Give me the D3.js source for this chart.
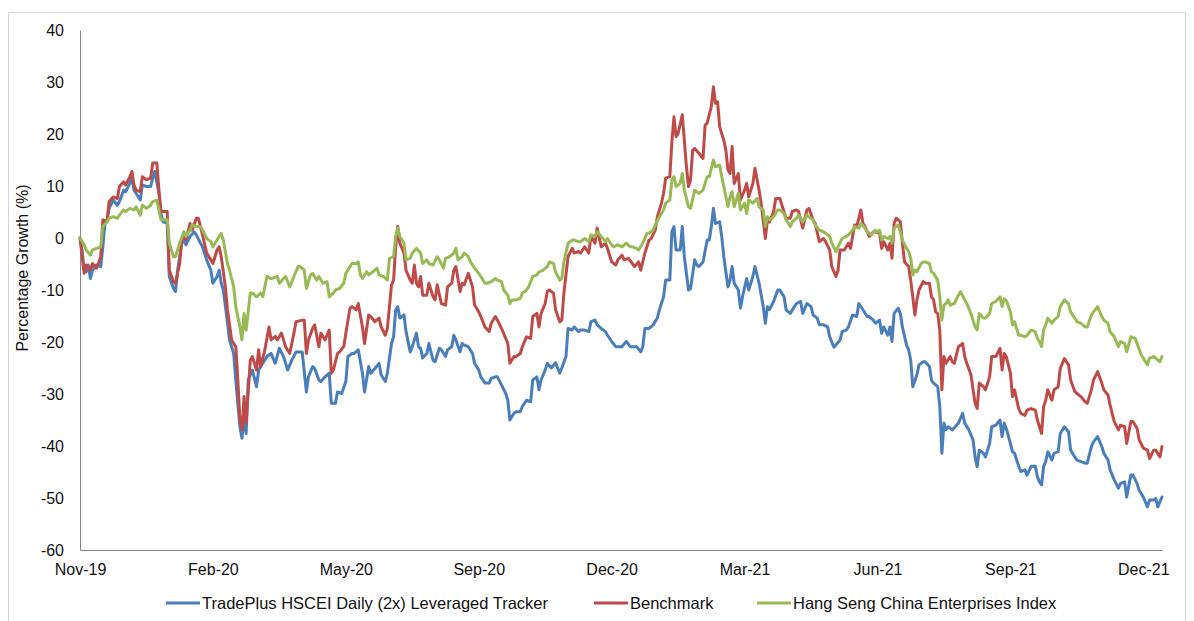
<!DOCTYPE html>
<html>
<head>
<meta charset="utf-8">
<script src="https://cdn.jsdelivr.net/npm/d3@7/dist/d3.min.js"></script>
<style>
  html, body { margin: 0; padding: 0; background: #fff; }
  svg { display: block; }
  text { font-family: "Liberation Sans", Arial, sans-serif; }
</style>
</head>
<body>
<svg id="chart" width="1194" height="621"></svg>
<script>
// ---------- DATA (trading-day index, % growth) ----------
const seriesNames = ["TradePlus HSCEI Daily (2x) Leveraged Tracker", "Benchmark", "Hang Seng China Enterprises Index"];
const tickDays = [0, 64, 128, 192, 256, 320, 384, 448, 512];
const tickLabels = ["Nov-19", "Feb-20", "May-20", "Sep-20", "Dec-20", "Mar-21", "Jun-21", "Sep-21", "Dec-21"];
const yTicks = [40, 30, 20, 10, 0, -10, -20, -30, -40, -50, -60];
const lastDay = 521;

const trackerData = [[0,0],[1,-2.3],[2,-6.2],[3,-6.5],[4,-5.2],[5,-7.8],[6,-6.2],[8,-5.2],[10,-5.5],[11,-1.7],[12,2.8],[13,3.5],[14,5.7],[16,7.3],[18,6.3],[19,7.0],[21,9.2],[22,8.9],[24,10.5],[25,11.8],[26,9.2],[27,8.6],[29,7.3],[30,10.2],[32,9.9],[34,9.9],[35,11.5],[36,12.8],[38,8.6],[39,4.7],[40,3.1],[42,2.8],[43,-7.4],[45,-9.7],[46,-10.3],[47,-6.2],[49,-1.0],
[50,-0.4],[51,-1.3],[53,0.3],[55,1.2],[56,0.6],[58,-1.0],[59,-1.7],[61,-4.2],[63,-6.2],[64,-8.7],[66,-7.4],[67,-6.2],[68,-8.7],[69,-10.0],[71,-16.1],[72,-19.6],[74,-22.2],[75,-27.3],[77,-36.3],[78,-38.5],[79,-34.4],[80,-37.6],[81,-27.3],[83,-25.4],[85,-28.6],[86,-25.4],[88,-24.1],[90,-22.8],[92,-22.2],[94,-24.1],[96,-21.2],[98,-22.8],[100,-25.4],[102,-23.5],[104,-21.9],[107,-21.9],
[109,-29.6],[110,-26.7],[112,-24.7],[113,-25.1],[115,-27.3],[116,-27.6],[118,-26.7],[120,-26.0],[121,-31.8],[123,-31.8],[124,-29.6],[126,-29.9],[128,-27.6],[129,-22.8],[131,-22.2],[132,-22.2],[134,-21.5],[136,-26.0],[137,-29.6],[139,-24.7],[140,-26.0],[142,-25.1],[144,-24.1],[145,-26.3],[147,-27.6],[148,-26.0],[150,-20.3],[151,-19.0],[152,-13.8],[153,-13.2],[154,-15.4],[156,-14.8],[157,-18.0],[159,-21.9],[160,-20.9],[162,-18.3],[163,-20.9],[164,-21.2],
[165,-23.1],[167,-22.2],[168,-20.3],[170,-23.5],[171,-23.8],[173,-21.2],[174,-21.5],[176,-22.8],[177,-21.5],[179,-20.9],[180,-18.7],[181,-19.6],[183,-21.9],[184,-20.3],[185,-20.6],[187,-20.9],[189,-22.2],[190,-24.1],[192,-25.4],[193,-26.7],[195,-27.9],[197,-27.9],[198,-27.0],[200,-26.7],[201,-26.7],[203,-28.3],[205,-29.9],[206,-31.2],[207,-35.0],[209,-33.7],[210,-33.4],[212,-33.4],[213,-32.4],[215,-31.2],[217,-31.5],[218,-27.3],[220,-26.7],[221,-29.2],[222,-27.3],[224,-25.4],[225,-24.1],
[227,-25.0],[229,-24.0],[231,-26.0],[232,-25.0],[234,-22.8],
[235,-17.4],[237,-17.7],[238,-17.1],[240,-18.0],[241,-17.7],[243,-17.7],[245,-18.0],[246,-16.1],[248,-15.8],[249,-16.7],[251,-17.4],[253,-18.0],[254,-18.7],[256,-19.9],[258,-20.9],[259,-20.9],[261,-20.9],[263,-19.9],[265,-20.9],[266,-20.9],[268,-20.9],[270,-21.9],[271,-20.9],[272,-17.4],[274,-17.4],[276,-16.7],[278,-15.4],[279,-13.8],[281,-11.3],[282,-8.1],[284,-8.1],
[285,1.2],[286,2.2],[287,-2.3],[289,-2.3],[290,2.2],[291,-3.6],[293,-10.0],[294,-9.7],[296,-4.2],[297,-5.2],[298,-5.5],[300,-4.6],[302,-0.4],[303,-0.4],[304,2.2],[305,5.7],[306,2.8],[308,3.1],[309,0.3],[310,-3.6],[312,-9.4],[313,-8.1],[314,-5.5],[315,-8.7],[317,-10.0],[318,-13.5],[319,-11.3],[321,-7.8],[322,-10.0],[324,-7.4],[325,-5.5],[327,-8.7],
[329,-13.2],[330,-16.4],[331,-13.2],[332,-13.8],[334,-12.2],[336,-10.0],[337,-10.0],[339,-11.3],[340,-13.8],[342,-14.5],[344,-13.2],[345,-12.6],[347,-12.2],[348,-14.5],[350,-12.6],[352,-13.2],[353,-14.8],[355,-15.4],[356,-16.7],[358,-16.7],[360,-17.1],[361,-19.0],[363,-21.0],[366,-19.6],[367,-18.0],[369,-17.7],[370,-17.1],[372,-14.8],[374,-15.1],[375,-12.6],[377,-13.8],[379,-15.1],[380,-15.1],[382,-15.8],[383,-16.4],
[385,-15.8],[386,-18.3],[387,-17.1],[389,-18.7],[390,-17.1],[391,-19.9],[392,-14.5],[394,-13.5],[395,-14.5],[396,-17.1],[398,-20.6],[399,-21.5],[400,-23.5],[401,-28.6],[403,-26.3],[404,-24.4],[406,-23.8],[407,-23.8],[409,-24.7],[410,-27.3],[411,-27.9],[413,-28.6],[414,-32.4],[415,-41.4],[416,-35.6],[417,-36.9],[418,-36.3],[420,-36.9],[421,-36.5],[423,-35.6],[425,-33.7],[426,-35.6],[428,-36.9],[430,-38.8],[431,-42.1],[432,-44.0],[433,-40.8],[435,-41.4],[436,-42.1],[438,-39.5],[439,-36.3],[441,-36.0],
[443,-35.0],[444,-38.2],[445,-35.6],[446,-36.6],[448,-39.5],[449,-41.1],[450,-41.4],[452,-43.9],[453,-44.9],[455,-44.6],[456,-45.6],[458,-43.9],[460,-43.9],[461,-45.9],[462,-46.9],[463,-47.5],[464,-43.9],[465,-43.0],[466,-41.1],[468,-42.7],[469,-41.4],[471,-41.1],[472,-37.6],[474,-36.3],[476,-37.3],[477,-40.8],[479,-42.1],[480,-42.7],[482,-43.0],[484,-43.3],[485,-43.3],[487,-40.1],[488,-39.2],[490,-38.2],[492,-40.1],[493,-41.4],[495,-42.7],[496,-44.6],[498,-46.5],[500,-48.1],[501,-47.2],[503,-46.9],[504,-49.8],[506,-45.6],[507,-45.6],[509,-47.2],[510,-48.5],[512,-49.8],[514,-51.7],[515,-50.4],[517,-50.4],[518,-50.1],[519,-51.7],[521,-49.8]];

const benchmarkData = [[0,0],[2,-6.8],[3,-5.2],[5,-6.2],[6,-4.9],[8,-5.8],[10,-3.6],[11,3.5],[13,3.1],[14,7.0],[16,7.9],[18,7.6],[19,9.9],[21,10.8],[22,10.2],[24,11.8],[25,12.8],[26,10.2],[27,9.2],[29,8.9],[30,11.8],[32,11.2],[34,11.5],[35,14.4],[37,14.4],[38,9.2],[39,5.1],[42,5.1],[43,-6.2],[45,-8.4],[46,-8.7],[48,-4.9],[49,-0.4],
[50,0.3],[51,-0.4],[53,2.8],[54,1.5],[56,3.8],[57,3.8],[58,2.2],[59,0.6],[61,-2.9],[63,-4.2],[64,-4.9],[66,-2.3],[67,-1.7],[68,-3.6],[70,-9.4],[71,-13.8],[73,-19.6],[75,-20.9],[76,-27.3],[77,-35.0],[78,-36.9],[79,-30.5],[80,-35.6],[82,-23.5],[83,-22.8],[85,-25.4],[86,-21.5],[87,-24.7],[89,-21.5],[91,-17.1],[92,-19.6],[94,-18.9],[95,-19.6],[97,-18.3],[99,-20.9],[101,-22.2],[103,-18.3],[104,-16.1],[107,-15.8],[108,-15.8],
[109,-22.2],[110,-19.6],[112,-17.4],[113,-16.7],[115,-20.9],[116,-18.3],[118,-19.6],[120,-17.7],[121,-26.0],[122,-25.4],[124,-22.2],[125,-21.9],[127,-20.9],[128,-18.3],[130,-13.5],[131,-13.2],[133,-13.8],[134,-12.6],[136,-17.1],[137,-20.3],[139,-14.8],[140,-15.1],[142,-16.1],[144,-15.4],[145,-17.1],[147,-18.7],[148,-17.4],[150,-9.0],[151,-8.1],[152,-1.7],[153,2.2],[154,-1.0],[156,-2.9],[157,-6.2],[159,-8.1],[160,-8.7],[161,-5.2],[162,-8.7],[163,-9.4],
[164,-7.4],[165,-11.0],[167,-11.0],[168,-8.7],[170,-11.3],[171,-11.9],[172,-9.0],[174,-12.6],[176,-12.9],[177,-9.4],[179,-8.7],[180,-6.2],[181,-5.5],[183,-10.3],[184,-8.7],[185,-9.0],[187,-6.8],[189,-9.4],[190,-12.9],[192,-14.2],[193,-15.1],[195,-17.1],[197,-18.0],[198,-16.4],[200,-15.1],[201,-15.8],[203,-17.4],[205,-19.3],[206,-20.3],[207,-24.1],[209,-22.8],[210,-22.8],[212,-22.2],[213,-20.9],[215,-19.0],[217,-19.3],[218,-15.1],[220,-14.5],[221,-17.1],[222,-14.5],[224,-12.6],[225,-10.3],[226,-10.0],
[228,-10.6],[229,-13.8],[231,-16.1],[232,-15.8],[233,-10.6],[235,-3.6],[237,-2.0],[238,-2.9],[240,-2.6],[241,-2.9],[243,-1.7],[245,-2.9],[246,0.3],[248,-1.0],[249,1.9],[251,-1.7],[253,-1.0],[254,-2.0],[256,-4.6],[258,-5.2],[259,-4.2],[261,-3.3],[262,-4.2],[264,-3.9],[266,-4.9],[267,-5.5],[269,-4.6],[270,-6.2],
[272,-2.9],[274,-0.4],[275,-0.1],[277,1.5],[278,4.1],[280,6.7],[281,8.6],[282,11.5],[284,11.8],[285,18.5],[286,23.3],[287,19.5],[288,20.1],[290,23.7],[291,18.8],[292,13.7],[293,9.9],[294,11.2],[295,16.9],[296,17.2],[298,16.3],[300,15.3],[301,21.7],[302,22.1],[304,25.3],[305,29.1],[306,25.9],[307,26.2],[308,21.4],[310,18.8],[311,16.9],[312,13.1],[313,12.4],[314,17.6],[315,10.5],[317,12.4],[318,7.3],[320,9.2],[321,10.5],[322,7.9],[324,10.5],[325,13.4],[327,9.2],[328,6.7],[330,-0.1],[331,3.5],
[332,3.1],[334,5.1],[335,7.6],[337,7.6],[338,6.3],[340,3.8],[342,3.8],[343,5.1],[345,5.4],[346,5.1],[348,1.9],[350,5.4],[351,5.7],[353,3.5],[354,2.8],[356,-0.7],[358,-0.1],[359,-0.7],[361,-2.3],[362,-5.5],[364,-7.4],[365,-6.2],[366,-2.3],[368,-2.3],[370,-1.0],[371,-2.0],[373,2.5],[374,2.2],[376,5.4],[377,2.8],[378,2.2],[380,0.3],[382,1.2],[383,1.2],
[385,0.9],[386,-2.0],[387,-0.7],[389,-2.3],[390,-1.0],[391,-3.9],[392,2.8],[393,3.8],[395,3.1],[396,-1.0],[397,-4.6],[399,-5.5],[400,-8.1],[401,-11.3],[402,-14.8],[403,-11.9],[404,-10.0],[406,-8.4],[407,-8.7],[409,-8.7],[410,-11.3],[411,-11.9],[412,-14.2],[413,-14.5],[414,-17.7],[415,-29.2],[416,-22.8],[417,-24.1],[419,-22.8],[420,-23.8],[421,-24.1],[423,-20.9],[425,-20.3],[426,-22.8],[427,-24.1],[429,-26.3],[431,-31.8],[432,-32.8],[433,-27.9],[435,-28.6],[436,-29.2],[438,-26.7],[439,-22.8],[441,-22.8],
[443,-21.2],[444,-25.4],[445,-22.2],[446,-22.8],[448,-26.0],[449,-30.5],[450,-29.2],[452,-32.8],[453,-33.7],[455,-34.1],[456,-33.1],[458,-32.8],[460,-33.1],[461,-35.0],[462,-36.3],[463,-37.6],[464,-32.4],[465,-31.2],[466,-29.2],[468,-31.2],[469,-29.2],[471,-28.6],[472,-25.1],[474,-23.2],[476,-24.4],[477,-27.3],[479,-29.5],[480,-29.9],[482,-30.5],[484,-31.5],[485,-31.8],[487,-29.2],[488,-27.3],[490,-25.7],[492,-27.9],[493,-29.2],[495,-30.2],[496,-32.1],[498,-35.3],[500,-36.9],[501,-36.0],[503,-36.3],[504,-39.5],[506,-35.3],[507,-35.3],[509,-36.6],[510,-38.8],[512,-40.4],[514,-40.8],[515,-42.4],[517,-40.8],[518,-40.8],[520,-42.1],[521,-40.1]];

const hsceiData = [[0,0],[2,-1.3],[3,-2.3],[5,-3.3],[6,-2.3],[8,-2.0],[10,-1.7],[11,2.2],[13,3.1],[14,3.8],[16,4.1],[18,3.8],[19,4.4],[21,5.4],[22,5.1],[24,5.7],[26,5.4],[27,6.0],[29,4.4],[30,6.3],[32,5.7],[34,6.3],[35,7.0],[37,7.3],[38,5.4],[39,3.5],[42,3.5],[43,-1.0],[45,-3.6],[46,-3.6],[48,-1.0],
[50,1.2],[51,0.3],[53,1.5],[54,2.5],[56,2.2],[58,2.2],[59,1.5],[61,-0.1],[63,-0.7],[64,-1.7],[66,-0.4],[67,0.3],[68,0.9],[69,-0.4],[71,-4.9],[72,-6.2],[74,-9.4],[75,-13.2],[77,-17.1],[78,-19.6],[79,-14.5],[80,-17.7],[82,-10.6],[83,-10.6],[85,-11.3],[87,-10.6],[88,-11.3],[90,-7.4],[92,-7.8],[95,-7.4],[96,-8.7],[98,-7.8],[99,-7.4],[101,-9.4],[103,-7.4],[105,-5.5],
[106,-5.5],[108,-6.2],[109,-9.7],[111,-7.1],[112,-6.8],[114,-8.1],[115,-7.4],[117,-8.7],[119,-8.4],[120,-11.3],[122,-10.6],[123,-10.0],[125,-9.7],[127,-8.7],[128,-6.8],[130,-5.5],[131,-4.9],[133,-4.9],[134,-4.6],[135,-7.1],[136,-7.8],[138,-6.5],[139,-7.1],[141,-6.5],[143,-5.8],[144,-7.1],[146,-7.4],[148,-8.1],[149,-3.9],[151,-3.6],[152,0.3],[153,1.9],[154,0.3],[156,-1.0],[157,-4.2],[159,-3.9],[160,-2.9],[162,-2.0],
[164,-2.9],[165,-4.9],[167,-4.2],[168,-4.9],[170,-5.2],[172,-3.6],[173,-4.2],[175,-5.8],[176,-3.9],[178,-3.6],[180,-2.9],[181,-2.0],[182,-4.2],[184,-3.6],[185,-2.9],[187,-3.6],[188,-4.6],[190,-5.8],[192,-6.8],[193,-7.4],[195,-8.7],[196,-8.7],[198,-8.4],[200,-7.8],[201,-8.1],[203,-8.4],[204,-10.0],[206,-11.0],[207,-12.6],[208,-11.9],[210,-11.9],[212,-11.6],[213,-10.6],[215,-10.0],[216,-9.4],[218,-7.4],[220,-7.1],[221,-6.5],[223,-6.2],[225,-5.5],[226,-4.6],
[228,-4.9],[229,-6.5],[231,-8.1],[232,-7.8],[233,-4.6],[235,-1.0],[237,-0.4],[238,-0.4],[240,-0.7],[241,-0.7],[243,-0.1],[245,-0.7],[246,0.6],[248,0.3],[249,1.2],[251,0.3],[253,-0.7],[254,-0.1],[256,-1.3],[257,-1.7],[259,-1.3],[261,-1.7],[263,-1.0],[265,-1.7],[266,-1.7],[268,-2.0],[269,-2.3],
[271,-1.0],[273,0.9],[274,0.9],[276,1.5],[277,2.5],[279,4.1],[281,5.4],[282,6.7],[284,7.3],[285,11.2],[286,11.8],[287,9.9],[289,10.5],[290,12.4],[291,9.2],[293,6.0],[294,5.7],[296,9.2],[297,8.9],[298,8.6],[300,9.2],[302,11.8],[303,11.8],[304,13.4],[305,15.0],[306,13.7],[308,14.0],[309,11.8],[310,9.9],[312,6.0],[313,7.9],[314,8.9],[315,6.0],[317,8.6],[318,5.4],[320,6.7],[321,4.7],[322,7.3],[324,6.7],[326,7.6],[327,6.0],[329,5.4],[330,2.2],[331,4.1],
[332,3.5],[334,4.1],[336,5.4],[337,5.4],[339,4.7],[340,3.5],[342,2.2],[343,3.1],[345,3.8],[346,4.4],[348,3.1],[350,4.4],[351,4.1],[353,3.5],[354,2.5],[356,1.5],[358,1.2],[359,0.9],[361,0.3],[362,-1.0],[364,-2.6],[365,-1.7],[367,-0.1],[369,0.3],[370,0.6],[372,1.5],[373,2.2],[375,1.9],[376,2.8],[378,1.9],[379,1.2],[381,0.6],[383,1.5],[384,1.2],
[385,1.5],[386,-0.4],[387,0.3],[389,-0.1],[390,0.3],[391,-1.0],[392,1.9],[394,2.5],[395,1.2],[396,-0.4],[398,-2.0],[399,-2.6],[400,-3.9],[401,-7.1],[402,-6.2],[403,-6.5],[405,-4.9],[406,-4.6],[407,-4.6],[409,-4.9],[410,-6.5],[411,-6.8],[413,-8.1],[414,-11.3],[415,-15.8],[416,-12.9],[417,-12.6],[418,-11.9],[419,-12.9],[421,-12.6],[423,-11.0],[424,-10.3],[426,-11.9],[427,-12.6],[429,-14.5],[431,-17.1],[432,-17.7],[433,-14.5],[435,-15.4],[436,-15.4],[438,-14.5],[439,-12.6],[441,-12.2],
[443,-11.3],[444,-13.2],[445,-11.7],[446,-12.0],[448,-14.2],[449,-16.7],[450,-16.1],[452,-18.7],[453,-18.7],[455,-19.0],[456,-18.7],[458,-17.7],[460,-18.0],[461,-19.3],[462,-19.9],[463,-20.9],[464,-17.7],[465,-16.7],[466,-15.4],[468,-16.4],[469,-15.8],[471,-15.1],[472,-13.2],[474,-11.9],[476,-12.6],[477,-14.2],[479,-15.4],[480,-16.1],[482,-16.4],[484,-17.1],[485,-17.1],[487,-14.8],[488,-14.2],[490,-13.2],[492,-15.1],[493,-15.8],[495,-16.4],[496,-18.0],[498,-19.0],[500,-20.9],[501,-19.9],[503,-20.3],[504,-21.9],[506,-19.0],[508,-19.3],[509,-20.3],[511,-22.5],[512,-23.1],[514,-24.4],[515,-23.1],[517,-22.8],[518,-23.1],[520,-23.8],[521,-22.8]];

// ---------- LAYOUT ----------
const colors = ["#4A7EBB", "#BE4B48", "#98B954"];
const svg = d3.select("#chart");
const plot = { left: 80, right: 1162, top: 30, bottom: 550 };
const FONT = "'Liberation Sans', Arial, sans-serif";

// outer frame
svg.append("rect")
  .attr("x", 8.5).attr("y", 12.5)
  .attr("width", 1177).attr("height", 620)
  .attr("fill", "none").attr("stroke", "#d9d9d9").attr("stroke-width", 1);

const x = d3.scaleLinear().domain([0, lastDay]).range([plot.left, plot.right]);
const y = d3.scaleLinear().domain([-60, 40]).range([plot.bottom, plot.top]);

// Y axis
const yAxis = d3.axisLeft(y).tickValues(yTicks).tickSize(0).tickPadding(16).tickFormat(d => String(d));
const gy = svg.append("g").attr("transform", `translate(${plot.left},0)`).call(yAxis);
gy.select(".domain").attr("stroke", "#868686").attr("stroke-width", 1);
gy.selectAll("text").attr("font-size", 16).attr("fill", "#111").attr("font-family", FONT);

// X axis
const xAxis = d3.axisBottom(x).tickValues(tickDays).tickSize(0).tickPadding(14)
  .tickFormat((d, i) => tickLabels[i]);
const gx = svg.append("g").attr("transform", `translate(0,${plot.bottom})`).call(xAxis);
gx.select(".domain").attr("stroke", "#868686").attr("stroke-width", 1);
gx.selectAll("text").attr("font-size", 16).attr("fill", "#111").attr("font-family", FONT);

// Y axis title
svg.append("text")
  .attr("transform", `translate(28,268) rotate(-90)`)
  .attr("text-anchor", "middle")
  .attr("font-size", 16).attr("fill", "#111")
  .text("Percentage Growth (%)");

// Lines
const line = d3.line().x(d => x(d[0])).y(d => y(d[1]));
const allSeries = [trackerData, benchmarkData, hsceiData];
svg.append("g").selectAll("path")
  .data(allSeries)
  .join("path")
  .attr("d", d => line(d))
  .attr("fill", "none")
  .attr("stroke", (d, i) => colors[i])
  .attr("stroke-width", 3)
  .attr("stroke-linejoin", "round")
  .attr("stroke-linecap", "round");

// Legend
const legendPos = [166, 594, 757];
const lg = svg.append("g");
seriesNames.forEach((name, i) => {
  const lx = legendPos[i];
  lg.append("line")
    .attr("x1", lx).attr("x2", lx + 34)
    .attr("y1", 603).attr("y2", 603)
    .attr("stroke", colors[i]).attr("stroke-width", 3);
  lg.append("text")
    .attr("x", lx + 36).attr("y", 609)
    .attr("font-size", 16.5).attr("fill", "#111")
    .text(name);
});
</script>
</body>
</html>
